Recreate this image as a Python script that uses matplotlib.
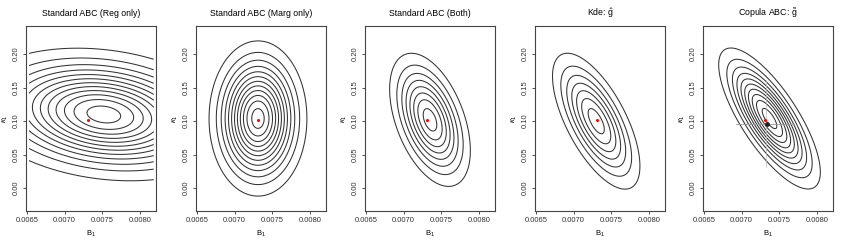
import numpy as np
import matplotlib
matplotlib.use("Agg")
from matplotlib import pyplot as plt

plt.rcParams["font.family"] = ["Liberation Sans", "DejaVu Sans"]
plt.rcParams["mathtext.fontset"] = "custom"
plt.rcParams["mathtext.rm"] = "Liberation Sans"
plt.rcParams["mathtext.it"] = "Liberation Sans:italic"

titles = ["Standard ABC (Reg only)", "Standard ABC (Marg only)", "Standard ABC (Both)",
          r"Kde: $\hat{\mathrm{g}}$", r"Copula ABC: $\tilde{\mathrm{g}}$"]

# density shape per panel
center_x = [0.00752, 0.00731, 0.00735, 0.00730, 0.00737]
center_y = [0.110, 0.104, 0.102, 0.100, 0.104]
sd_x = [0.00078, 0.000288, 0.000258, 0.000288, 0.00031]
sd_y = [0.044, 0.0515, 0.048, 0.0505, 0.0485]
rho = [-0.2, 0.0, -0.46, -0.66, -0.76]
n_levels = [12, 12, 8, 7, 10]

true_x, true_y = 0.00731, 0.1025
copula_est = (0.00734, 0.0955)
copula_hline = (0.00693, 0.00770)   # x range of horizontal interval
copula_vline = (0.031, 0.161)       # y range of vertical interval

x_ticks = [0.0065, 0.0070, 0.0075, 0.0080]
y_ticks = [0.00, 0.05, 0.10, 0.15, 0.20]
grid_x = (0.00653, 0.00818)
grid_y = (-0.023, 0.231)

W, H = 845, 242
lefts = [26, 196, 365, 535, 703]
fig = plt.figure(figsize=(W / 100, H / 100), dpi=100)

gx = np.linspace(grid_x[0], grid_x[1], 220)
gy = np.linspace(grid_y[0], grid_y[1], 220)
X, Y = np.meshgrid(gx, gy)

for i in range(5):
    ax = fig.add_axes([lefts[i] / W, (H - 211) / H, 130 / W, 185 / H])
    u = (X - center_x[i]) / sd_x[i]
    v = (Y - center_y[i]) / sd_y[i]
    q = (u**2 - 2 * rho[i] * u * v + v**2) / (1 - rho[i]**2)
    Z = np.exp(-0.5 * q)
    n = n_levels[i]
    levels = [k / (n + 0.5) for k in range(1, n + 1)]
    ax.contour(X, Y, Z, levels=levels, colors="#333333", linewidths=0.75)
    if i == 4:
        ax.plot(copula_hline, [copula_est[1]] * 2, color="#999999", lw=0.6)
        ax.plot([true_x + 0.00001] * 2, copula_vline, color="#bbbbbb", lw=0.5)
        ax.plot(*copula_est, "o", color="#222222", ms=2.5)
    ax.plot(true_x, true_y, "o", color="red", ms=2.2, mec="none")

    ax.set_xlim(0.00649, 0.00821)
    ax.set_ylim(-0.034, 0.242)
    ax.set_xticks(x_ticks)
    ax.set_xticklabels(["%.4f" % t for t in x_ticks])
    ax.set_yticks(y_ticks)
    ax.set_yticklabels(["%.2f" % t for t in y_ticks], rotation=90, va="center")
    ax.tick_params(labelsize=5.5, length=2.5, width=0.6, pad=2, colors="#333333")
    for s in ax.spines.values():
        s.set_linewidth(0.8)
        s.set_color("#444444")
    ax.set_title(titles[i], fontsize=6.3, pad=7)
    ax.set_xlabel(r"$\mathrm{B_1}$", fontsize=5.5, labelpad=3)
    ax.set_ylabel(r"$\kappa_1$", fontsize=5.5, labelpad=2)

fig.savefig("out.png", dpi=100)
plt.close()
